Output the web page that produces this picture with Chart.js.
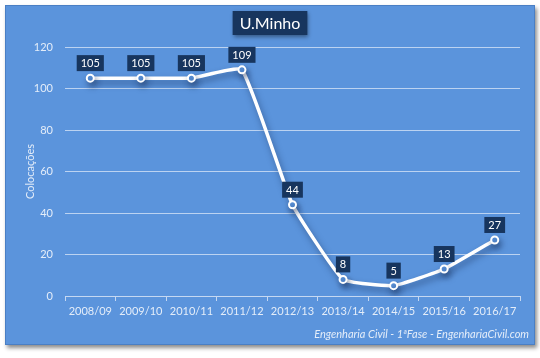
<!DOCTYPE html>
<html><head><meta charset="utf-8">
<script src="https://cdn.jsdelivr.net/npm/chart.js@4/dist/chart.umd.min.js"></script>
<style>
html,body{margin:0;padding:0;background:#fff;width:540px;height:358px;overflow:hidden;}
#wrap{position:absolute;left:5px;top:5px;width:530px;height:340px;background:#5b94dc;box-shadow:2px 3px 4px rgba(0,0,0,0.45);border:1px solid #4a7fc4;box-sizing:border-box;}
canvas{display:block;}
</style></head><body>
<div id="wrap"><canvas id="c" width="528" height="338"></canvas></div>
<script>
const categories = ["2008/09","2009/10","2010/11","2011/12","2012/13","2013/14","2014/15","2015/16","2016/17"];
const colocacoes = [105,105,105,109,44,8,5,13,27];
const yTicks = [0,20,40,60,80,100,120];
const titleText = "U.Minho";
const yTitle = "Colocações";
const footer = "Engenharia Civil - 1ªFase - EngenhariaCivil.com";

const FONT = "Lato, 'Open Sans', sans-serif";
const LIGHT = "#e4edf9";

const deco = {
  id:'deco',
  beforeDatasetsDraw(chart){
    const ctx = chart.ctx;
    ctx.save();
    ctx.shadowColor = 'rgba(20,40,80,0.5)';
    ctx.shadowBlur = 6;
    ctx.shadowOffsetX = 2;
    ctx.shadowOffsetY = 4;
  },
  afterDatasetsDraw(chart){
    chart.ctx.restore();
  },
  afterDraw(chart){
    const ctx = chart.ctx;
    ctx.save();
    ctx.font = "16px " + FONT;
    const tw = ctx.measureText(titleText).width;
    const cx = chart.width/2;
    ctx.shadowColor='rgba(0,0,0,0.4)'; ctx.shadowBlur=4; ctx.shadowOffsetX=1; ctx.shadowOffsetY=2;
    ctx.fillStyle = "#17355e";
    ctx.fillRect(cx - tw/2 - 7, 5, tw + 14, 24);
    ctx.shadowColor='transparent';
    ctx.fillStyle = "#ffffff";
    ctx.textAlign='center'; ctx.textBaseline='middle';
    ctx.fillText(titleText, cx, 17.5);
    const meta = chart.getDatasetMeta(0);
    ctx.font = "11px " + FONT;
    meta.data.forEach((pt,i)=>{
      const t = String(colocacoes[i]);
      const w = ctx.measureText(t).width + 8;
      const h = 16;
      const x = pt.x, yb = pt.y - 7;
      ctx.fillStyle = "#17355e";
      ctx.fillRect(x - w/2, yb - h, w, h);
      ctx.fillStyle = "#ffffff";
      ctx.fillText(t, x, yb - h/2 + 0.5);
    });
    ctx.font = "italic 11px " + FONT;
    ctx.textAlign='right'; ctx.textBaseline='alphabetic';
    ctx.fillStyle = LIGHT;
    ctx.fillText(footer, chart.width - 5, chart.height - 6);
    ctx.restore();
  }
};

new Chart(document.getElementById('c'), {
  type:'line',
  data:{labels:categories, datasets:[{
    data:colocacoes,
    borderColor:'#ffffff', borderWidth:3.5,
    tension:0.12,
    pointRadius:3.5, pointBorderWidth:2, pointBackgroundColor:'#5b94dc', pointBorderColor:'#ffffff',
    pointHoverRadius:3.5
  }]},
  options:{
    responsive:false, animation:false, devicePixelRatio:1,
    layout:{padding:{top:41,right:14,left:0,bottom:0}},
    plugins:{legend:{display:false}, tooltip:{enabled:false}, title:{display:false}},
    scales:{
      x:{
        offset:true,
        grid:{display:true, offset:true, drawOnChartArea:false, drawTicks:true, tickLength:5, color:'#c5d8f2'},
        border:{color:'#c5d8f2'},
        ticks:{color:LIGHT, font:{family:FONT, size:11}, padding:4, maxRotation:0},
        afterFit(s){ s.height = 48; }
      },
      y:{
        min:0, max:120,
        afterBuildTicks(s){ s.ticks = yTicks.map(v=>({value:v})); },
        grid:{color:'rgba(220,232,248,0.75)', drawTicks:false, lineWidth:1},
        border:{display:false},
        ticks:{color:LIGHT, font:{family:FONT, size:11}, padding:12},
        title:{display:true, text:yTitle, color:LIGHT, font:{family:FONT, size:11}, padding:{top:18,bottom:0}},
        afterFit(s){ s.width = 59; }
      }
    }
  },
  plugins:[deco]
});
</script>
</body></html>
